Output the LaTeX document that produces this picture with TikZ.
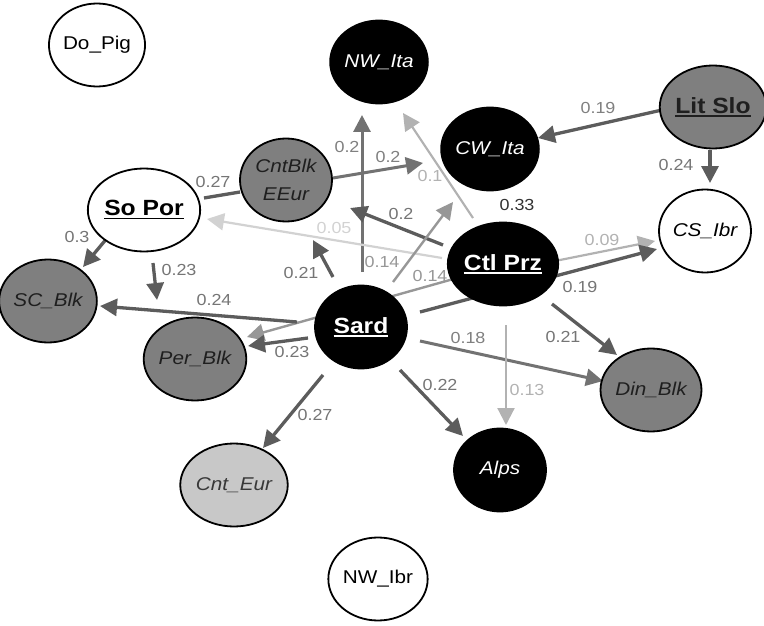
\documentclass[tikz,border=0pt]{standalone}
\usepackage{fontspec}
\setmainfont{Liberation Sans}[FakeStretch=1.12]
\usetikzlibrary{arrows.meta,shapes.geometric}
\definecolor{nodegray}{HTML}{7F7F7F}
\definecolor{nodelight}{HTML}{C8C8C8}
\definecolor{cDark}{HTML}{5C5C5C}
\definecolor{cMid}{HTML}{727272}
\definecolor{cLight}{HTML}{979797}
\definecolor{cPale}{HTML}{B2B2B2}
\definecolor{cFaint}{HTML}{D2D2D2}
\newcommand{\myul}[1]{\setbox0\hbox{#1}\leavevmode\rlap{\rule[-3.6pt]{\wd0}{1.8pt}}\box0}
\tikzset{
  nd/.style={ellipse, draw=black, line width=1.8pt, minimum width=92pt, minimum height=83pt, inner sep=0pt, align=center},
  blk/.style={nd, fill=black, text=white},
  gry/.style={nd, fill=nodegray, text=black!88},
  lgt/.style={nd, fill=nodelight, text=black!78},
  wht/.style={nd, fill=white, text=black},
  itx/.style={font=\fontsize{18.5}{28}\selectfont\itshape},
  rgx/.style={font=\fontsize{18.5}{28}\selectfont},
  bdx/.style={font=\fontsize{22}{26}\selectfont\bfseries},
  tip/.style={-{Triangle[length=17pt,width=17pt]}},
  eDark/.style={draw=cDark, line width=3.3pt, tip},
  eMid/.style={draw=cMid, line width=3pt, tip},
  eLight/.style={draw=cLight, line width=2.4pt, tip},
  ePale/.style={draw=cPale, line width=2.2pt, tip},
  eFaint/.style={draw=cFaint, line width=2.2pt, tip},
  lab/.style={font=\fontsize{16}{16}\selectfont, inner sep=0pt},
  lDark/.style={lab, text=cDark!85!white},
  lMid/.style={lab, text=cMid!90!white},
  lLight/.style={lab, text=cLight},
  lPale/.style={lab, text=cPale},
  lFaint/.style={lab, text=cFaint},
}
\begin{document}
\begin{tikzpicture}[x=1pt,y=-1pt]
\useasboundingbox (0,0) rectangle (764,626);
% node positions
\coordinate (pDoPig) at (97,45);
\coordinate (pNWIta) at (379,62);
\coordinate (pLitSlo) at (713,107);
\coordinate (pCWIta) at (490,149);
\coordinate (pCntBlk) at (286,180);
\coordinate (pSoPor) at (144,210);
\coordinate (pCtlPrz) at (503,264);
\coordinate (pCSIbr) at (705,231);
\coordinate (pSCBlk) at (48,301);
\coordinate (pSard) at (361,327);
\coordinate (pPerBlk) at (195,359);
\coordinate (pDinBlk) at (651,390);
\coordinate (pAlps) at (500,470);
\coordinate (pCntEur) at (234,485);
\coordinate (pNWIbr) at (378,579);

% edges (drawn first, nodes on top)
\draw[eDark] ([shift={(-51,3)}]pLitSlo) -- ([shift={(48,-11)}]pCWIta);
\draw[eDark] ([shift={(-3,43)}]pLitSlo) -- ([shift={(5,-48)}]pCSIbr);
\draw[eMid] ([shift={(47,-2)}]pCntBlk) -- ([shift={(-67,14)}]pCWIta);
\draw[draw=cDark, line width=3.3pt] ([shift={(-46,12)}]pCntBlk) -- ([shift={(60,-12)}]pSoPor);
\draw[eMid] ([shift={(1,-55)}]pSard) -- ([shift={(-17,53)}]pNWIta);
\draw[ePale] ([shift={(-30,-46)}]pCtlPrz) -- ([shift={(24,51)}]pNWIta);
\draw[eDark] ([shift={(-60,-19)}]pCtlPrz) -- ([shift={(64,28)}]pCntBlk);
\draw[eFaint] ([shift={(-61,-6)}]pCtlPrz) -- ([shift={(63,9)}]pSoPor);
\draw[eLight] ([shift={(32,-45)}]pSard) -- ([shift={(-37,53)}]pCWIta);
\draw[eLight] ([shift={(-46,14)}]pCtlPrz) -- ([shift={(52,-22)}]pPerBlk);
\draw[ePale] ([shift={(52,-3)}]pCtlPrz) -- ([shift={(-50,10)}]pCSIbr);
\draw[eDark] ([shift={(59,-15)}]pSard) -- ([shift={(-48,18)}]pCSIbr);
\draw[eDark] ([shift={(49,40)}]pCtlPrz) -- ([shift={(-34,-35)}]pDinBlk);
\draw[eMid] ([shift={(59,14)}]pSard) -- ([shift={(-48,-9)}]pDinBlk);
\draw[ePale] ([shift={(3,61)}]pCtlPrz) -- ([shift={(6,-45)}]pAlps);
\draw[eDark] ([shift={(39,43)}]pSard) -- ([shift={(-37,-34)}]pAlps);
\draw[eDark] ([shift={(-38,48)}]pSard) -- ([shift={(29,-37)}]pCntEur);
\draw[eDark] ([shift={(-64,-5)}]pSard) -- ([shift={(52,5)}]pSCBlk);
\draw[eDark] ([shift={(-53,11)}]pSard) -- ([shift={(53,-13)}]pPerBlk);
\draw[eDark] ([shift={(-36,27)}]pSoPor) -- ([shift={(35,-34)}]pSCBlk);
\draw[eDark] ([shift={(9,53)}]pSoPor) -- ([shift={(-38,-59)}]pPerBlk);
\draw[eDark] ([shift={(-28,-50)}]pSard) -- ([shift={(27,60)}]pCntBlk);

% nodes
\node[wht, rgx] (DoPig) at (pDoPig) {Do\_Pig};
\node[blk, itx] (NWIta) at (pNWIta) {NW\_Ita};
\node[gry, bdx] (LitSlo) at (pLitSlo) {\myul{Lit Slo}};
\node[blk, itx] (CWIta) at (pCWIta) {CW\_Ita};
\node[gry, itx] (CntBlk) at (pCntBlk) {CntBlk\\EEur};
\node[wht, bdx] (SoPor) at (pSoPor) {\myul{So Por}};
\node[blk, bdx] (CtlPrz) at (pCtlPrz) {\myul{Ctl Prz}};
\node[wht, itx] (CSIbr) at (pCSIbr) {CS\_Ibr};
\node[gry, itx] (SCBlk) at (pSCBlk) {SC\_Blk};
\node[blk, bdx] (Sard) at (pSard) {\myul{Sard}};
\node[gry, itx] (PerBlk) at (pPerBlk) {Per\_Blk};
\node[gry, itx] (DinBlk) at (pDinBlk) {Din\_Blk};
\node[blk, itx] (Alps) at (pAlps) {Alps};
\node[lgt, itx] (CntEur) at (pCntEur) {Cnt\_Eur};
\node[wht, rgx] (NWIbr) at (pNWIbr) {NW\_Ibr};

% labels
\node[lMid] (l1) at (598,108) {0.19};
\node[lDark] (l2) at (676,165) {0.24};
\node[lMid] (l3) at (388,157) {0.2};
\node[lDark] (l4) at (213,182) {0.27};
\node[lMid] (l5) at (347,147) {0.2};
\node[lPale] (l6) at (430,176) {0.1};
\node[lDark] (l7) at (401,214) {0.2};
\node[lFaint] (l8) at (334,228) {0.05};
\node[lLight] (l9) at (382,262) {0.14};
\node[lLight] (l10) at (430,276) {0.14};
\node[lPale] (l11) at (602,240) {0.09};
\node[lDark] (l12) at (580,287) {0.19};
\node[lDark] (l13) at (563,337) {0.21};
\node[lMid] (l14) at (468,338) {0.18};
\node[lPale] (l15) at (527,390) {0.13};
\node[lDark] (l16) at (440,385) {0.22};
\node[lDark] (l17) at (315,415) {0.27};
\node[lDark] (l18) at (214,300) {0.24};
\node[lDark] (l19) at (292,352) {0.23};
\node[lDark] (l20) at (77,237) {0.3};
\node[lDark] (l21) at (179,270) {0.23};
\node[lDark] (l22) at (301,273) {0.21};
\node[lab, text=black!80] (l23) at (517,205) {0.33};
\end{tikzpicture}
\end{document}
